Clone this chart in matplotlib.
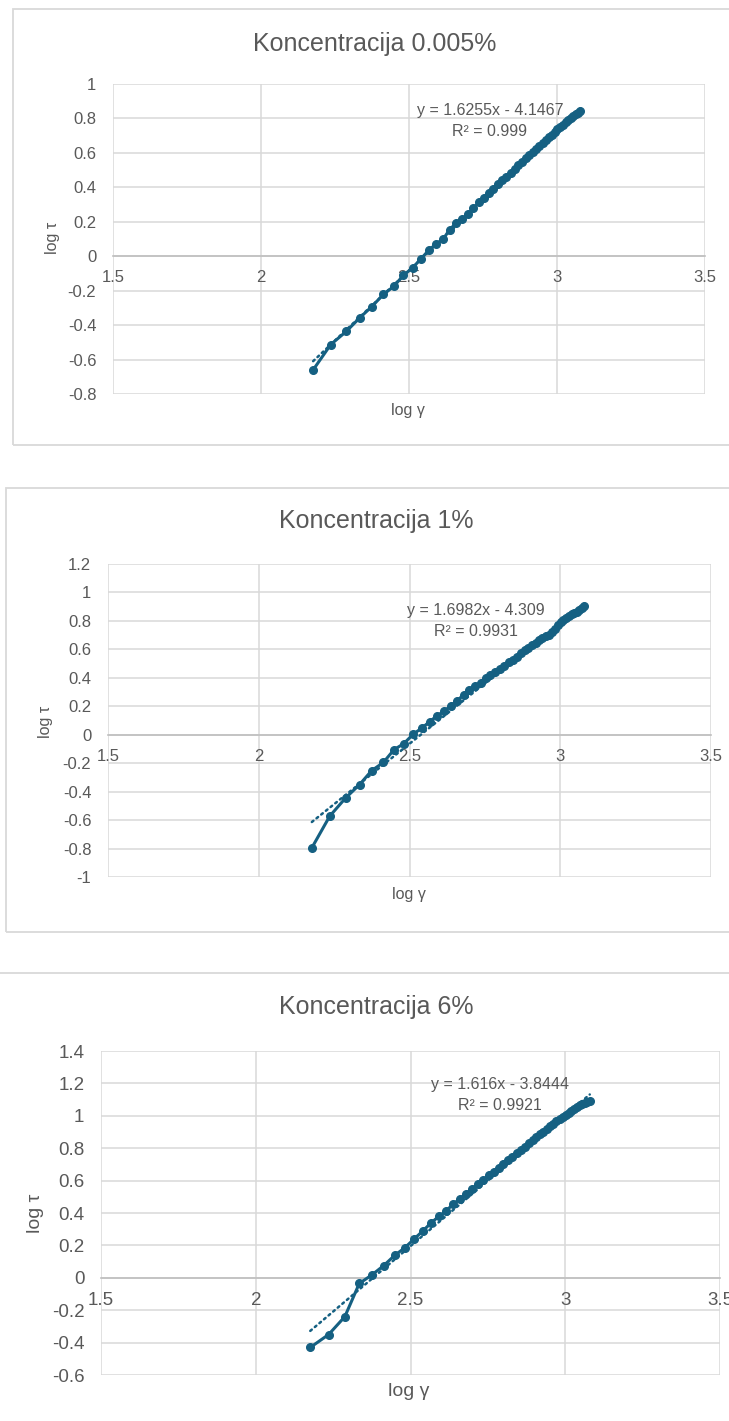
import numpy as np
import matplotlib.pyplot as plt
from matplotlib.patches import Rectangle
from matplotlib.ticker import MultipleLocator, FuncFormatter

plt.rcParams['font.family'] = ['Liberation Sans', 'DejaVu Sans']
plt.rcParams['axes.unicode_minus'] = False

# log gamma (isto za sva tri mjerenja)
log_gamma = [2.1761, 2.2355, 2.2878, 2.3345, 2.3747, 2.4133, 2.4487, 2.4814, 2.5119, 2.5403,
             2.5670, 2.5922, 2.6149, 2.6375, 2.6590, 2.6794, 2.6990, 2.7177, 2.7356, 2.7528,
             2.7686, 2.7846, 2.8000, 2.8149, 2.8293, 2.8432, 2.8567, 2.8698, 2.8820, 2.8943,
             2.9063, 2.9180, 2.9294, 2.9405, 2.9513, 2.9619, 2.9717, 2.9818, 2.9917, 3.0013,
             3.0107, 3.0199, 3.0290, 3.0378, 3.0461, 3.0546, 3.0630, 3.0711, 3.0792]

# log tau, koncentracija 0.005%
log_tau_1 = [-0.660, -0.513, -0.437, -0.356, -0.292, -0.222, -0.175, -0.110, -0.068, -0.015,
             0.035, 0.072, 0.098, 0.155, 0.192, 0.215, 0.243, 0.278, 0.312, 0.338,
             0.368, 0.392, 0.418, 0.442, 0.460, 0.486, 0.508, 0.530, 0.549, 0.570,
             0.588, 0.606, 0.624, 0.641, 0.658, 0.675, 0.690, 0.706, 0.721, 0.736,
             0.750, 0.764, 0.778, 0.791, 0.803, 0.815, 0.826, 0.834, 0.842]

# log tau, koncentracija 1%
log_tau_2 = [-0.795, -0.572, -0.445, -0.350, -0.252, -0.195, -0.105, -0.062, 0.003, 0.046,
             0.092, 0.135, 0.165, 0.205, 0.240, 0.282, 0.312, 0.340, 0.365, 0.400,
             0.420, 0.442, 0.462, 0.485, 0.508, 0.525, 0.548, 0.575, 0.596, 0.612,
             0.630, 0.648, 0.664, 0.680, 0.692, 0.703, 0.720, 0.745, 0.768, 0.790,
             0.805, 0.818, 0.835, 0.850, 0.858, 0.866, 0.876, 0.890, 0.905]

# log tau, koncentracija 6%
log_tau_3 = [-0.430, -0.350, -0.240, -0.035, 0.017, 0.075, 0.138, 0.185, 0.240, 0.290,
             0.340, 0.380, 0.412, 0.455, 0.485, 0.520, 0.550, 0.578, 0.605, 0.632,
             0.655, 0.680, 0.702, 0.728, 0.748, 0.770, 0.790, 0.810, 0.830, 0.852,
             0.870, 0.886, 0.902, 0.918, 0.934, 0.950, 0.965, 0.980, 0.995, 1.008,
             1.020, 1.032, 1.045, 1.056, 1.065, 1.072, 1.080, 1.086, 1.093]

titles = ["Koncentracija 0.005%", "Koncentracija 1%", "Koncentracija 6%"]
slopes = [1.6255, 1.6982, 1.616]
intercepts = [-4.1467, -4.309, -3.8444]
r2_values = ["0.999", "0.9931", "0.9921"]
y_ranges = [(-0.8, 1.0), (-1.0, 1.2), (-0.6, 1.4)]

W, H = 729, 1421
color = '#156082'
text_col = '#595959'
grid_col = '#D9D9D9'

fig = plt.figure(figsize=(W / 100, H / 100), dpi=100)


def px(x, y):
    # piksel -> koordinate figure
    return x / W, 1 - y / H


# okviri grafikona
for (x0, y0, x1, y1) in [(13, 9, 740, 445), (6, 488, 740, 932), (-10, 973, 740, 1500)]:
    fig.patches.append(Rectangle(px(x0, y1), (x1 - x0) / W, (y1 - y0) / H, transform=fig.transFigure,
                                 fill=False, edgecolor='#D9D9D9', lw=1.3, clip_on=False))

# polozaj osi u pikselima: lijevo, desno, gore, dolje
boxes = [(113, 705, 84, 394), (108, 711, 564, 877), (101, 720, 1051, 1375)]
tick_sizes = [12, 12, 13.5]
label_sizes = [11.5, 11.5, 14]
title_pos = [(375, 44), (376, 521), (376, 1007)]
ylab_pos = [(52, 238), (46, 722), (36, 1213)]
xlab_pos = [(408, 410), (409, 895), (409, 1392)]
eq_pos = [(490, 110), (476, 610), (500, 1084)]

series = [log_tau_1, log_tau_2, log_tau_3]

for i in range(3):
    l, r, t, b = boxes[i]
    ax = fig.add_axes([l / W, 1 - b / H, (r - l) / W, (b - t) / H])
    x = np.array(log_gamma)
    y = np.array(series[i])

    ax.plot(x, y, '-o', color=color, lw=2.2, ms=5.5, zorder=3)
    # linearni trend
    xt = np.array([x[0], x[-1]])
    ax.plot(xt, slopes[i] * xt + intercepts[i], color=color, lw=1.8,
            linestyle=(0, (0.8, 1.6)), dash_capstyle='round', zorder=4)

    ax.set_xlim(1.5, 3.5)
    ax.set_ylim(*y_ranges[i])
    ax.xaxis.set_major_locator(MultipleLocator(0.5))
    ax.yaxis.set_major_locator(MultipleLocator(0.2))
    ax.xaxis.set_major_formatter(FuncFormatter(lambda v, p: '%g' % round(v, 2)))
    ax.yaxis.set_major_formatter(FuncFormatter(lambda v, p: '%g' % round(v, 2)))
    ax.grid(True, color=grid_col, lw=1.1)
    ax.set_axisbelow(True)
    for s in ['top', 'right', 'left']:
        ax.spines[s].set_visible(False)
    ax.spines['bottom'].set_position(('data', 0))
    ax.spines['bottom'].set_color('#BFBFBF')
    ax.spines['bottom'].set_linewidth(1.2)
    ax.spines['bottom'].set_zorder(2)
    ax.tick_params(axis='both', length=0, colors=text_col, labelsize=tick_sizes[i])
    ax.tick_params(axis='x', pad=10)
    ax.tick_params(axis='y', pad=12)

    # tekstovi
    fig.text(*px(*title_pos[i]), titles[i], ha='center', va='center', fontsize=18, color=text_col)
    fig.text(*px(*ylab_pos[i]), "log τ", ha='center', va='center', rotation=90,
             fontsize=label_sizes[i], color=text_col)
    fig.text(*px(*xlab_pos[i]), "log γ", ha='center', va='center', fontsize=label_sizes[i], color=text_col)
    ex, ey = eq_pos[i]
    fig.text(*px(ex, ey), "y = %sx - %s" % (slopes[i], -intercepts[i]), ha='center', va='center',
             fontsize=11.5, color=text_col)
    fig.text(*px(ex, ey + 22), "R² = %s" % r2_values[i], ha='center', va='center',
             fontsize=11.5, color=text_col)

plt.savefig("out.png", dpi=100)
